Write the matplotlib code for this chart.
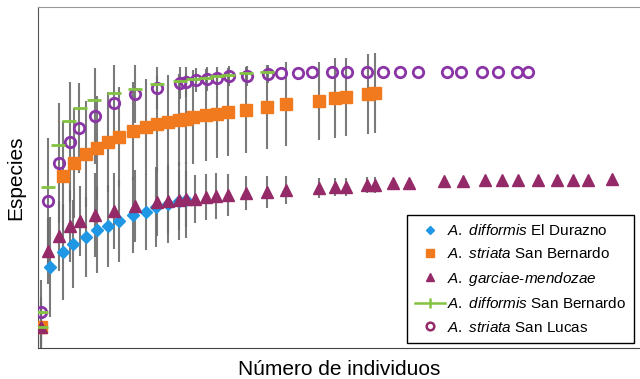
import matplotlib
matplotlib.use("Agg")
import matplotlib.pyplot as plt
from matplotlib.lines import Line2D

plt.rcParams["font.family"] = ["Liberation Sans", "DejaVu Sans"]
plt.rcParams["mathtext.fontset"] = "custom"
plt.rcParams["mathtext.rm"] = "Liberation Sans"
plt.rcParams["mathtext.it"] = "Liberation Sans:italic"

# curvas de rarefaccion
dif_dur_x = [1, 4.8, 10, 14, 19.2, 23.6, 28, 32.4, 38, 43.2, 47.2, 52, 56.4, 59.2]
dif_dur_y = [2.1, 8.1, 9.6, 10.4, 11.1, 11.8, 12.2, 12.7, 13.3, 13.6, 14.1, 14.4, 14.7, 14.8]
dif_dur_e = [2.5, 5.0, 4.8, 4.4, 4.0, 4.3, 4.1, 4.1, 3.8, 3.8, 4.0, 3.9, 3.9, 3.8]

str_sb_x = [1, 10, 14.4, 19.2, 23.6, 28, 32.4, 38, 43.2, 47.6, 52, 56.4, 59.2, 62, 67.2,
            71.6, 76, 83.2, 91.6, 99.2, 112.4, 118.8, 123.2, 132, 134.8]
str_sb_y = [2.1, 17.2, 18.5, 19.4, 20.0, 20.6, 21.1, 21.7, 22.1, 22.4, 22.6, 22.8, 22.9, 23.1, 23.3,
            23.4, 23.6, 23.8, 24.1, 24.4, 24.7, 25.0, 25.1, 25.4, 25.5]
str_sb_e = [2.0, 5.5, 5.5, 5.3, 5.2, 5.0, 5.0, 4.9, 4.8, 4.8, 4.7, 4.6, 4.5, 4.7, 4.6,
            4.4, 4.4, 4.3, 4.2, 4.2, 3.9, 4.0, 3.9, 4.0, 4.0]

gar_x = [1, 4, 8.4, 12.8, 16.8, 22.8, 30.4, 38.8, 47.6, 52, 56.4, 59.2, 62.8, 67.2, 71.2, 76,
         83.2, 91.6, 99.2, 112.4, 118.8, 123.2, 131.6, 134.8, 142, 148.4, 162.4, 170, 178.8,
         185.6, 192, 200, 207.6, 214, 220, 229.6]
gar_y = [2.1, 9.7, 11.2, 12.2, 12.7, 13.3, 13.7, 14.2, 14.6, 14.7, 14.8, 14.9, 14.9, 15.1, 15.2, 15.3,
         15.5, 15.6, 15.8, 16.0, 16.1, 16.1, 16.3, 16.3, 16.5, 16.5, 16.7, 16.7, 16.8,
         16.8, 16.8, 16.8, 16.8, 16.8, 16.8, 16.9]
gar_e = [3.0, 3.3, 3.5, 3.6, 3.5, 4.2, 3.8, 3.6, 3.4, 3.2, 3.0, 2.8, 2.4, 2.3, 2.3, 2.1,
         1.7, 1.6, 1.4, 1.0, 0.9, 0.9, 0.8, 0.8, 0, 0, 0, 0, 0,
         0, 0, 0, 0, 0, 0, 0]

dif_sb_x = [1, 1, 4, 8, 12.4, 16.8, 22.4, 30.4, 38.8, 47.6, 56.8, 62, 67.2, 71.6, 76, 83.2, 91.6]
dif_sb_y = [3.6, 2.1, 16.1, 20.3, 22.7, 24.0, 24.8, 25.5, 25.9, 26.4, 26.7, 26.9, 27.0, 27.2, 27.3,
            27.5, 27.6]

str_sl_x = [1, 4, 8.4, 12.8, 16.4, 22.8, 30.4, 38.8, 47.6, 56.8, 59.2, 63.2, 67.6, 71.6, 76.4,
            83.6, 92, 97.2, 104, 109.6, 117.6, 123.6, 131.6, 138, 144.8, 152, 163.6, 169.2,
            177.6, 184, 191.6, 196]
str_sl_y = [3.6, 14.7, 18.5, 20.6, 22.0, 23.2, 24.5, 25.4, 26.0, 26.5, 26.6, 26.8, 26.9, 27.0, 27.2,
            27.2, 27.4, 27.5, 27.5, 27.6, 27.6, 27.6, 27.6, 27.6, 27.6, 27.6, 27.6, 27.6,
            27.6, 27.6, 27.6, 27.6]
str_sl_e = [3.2, 6.3, 6.0, 6.0, 4.5, 4.8, 3.8, 2.9, 2.1, 1.6, 1.5, 1.2, 1.2, 1.1, 1.0,
            1.0, 0.9, 0, 0, 0, 0, 0, 0, 0, 0, 0, 0, 0,
            0, 0, 0, 0]

c_blue = "#1f97e4"
c_orange = "#f27a1e"
c_tri = "#942a68"
c_green = "#82c341"
c_circ = "#8a34a6"
c_err = "#6c6c6c"

fig = plt.figure(figsize=(6.4, 3.79), dpi=100)
ax = fig.add_axes([38 / 640, 1 - 348 / 379, 1 - 38 / 640, (348 - 7) / 379])

for xs, ys, es in [(str_sl_x, str_sl_y, str_sl_e), (str_sb_x, str_sb_y, str_sb_e),
                   (gar_x, gar_y, gar_e), (dif_dur_x, dif_dur_y, dif_dur_e)]:
    ax.errorbar(xs, ys, yerr=es, fmt="none", ecolor=c_err, elinewidth=1.5,
                capsize=0, zorder=1, alpha=0.9)

ax.plot(dif_dur_x, dif_dur_y, ls="none", marker="D", ms=6.2, color=c_blue, mec=c_blue, zorder=3)
ax.plot(str_sb_x, str_sb_y, ls="none", marker="s", ms=8.2, color=c_orange, mec=c_orange, zorder=3)
ax.plot(gar_x, gar_y, ls="none", marker="^", ms=8.2, color=c_tri, mec=c_tri, zorder=4)
ax.plot(str_sl_x, str_sl_y, ls="none", marker="o", ms=7.5, mfc="none", mec=c_circ, mew=2, zorder=4)
ax.plot(dif_sb_x, dif_sb_y, ls="none", marker="_", ms=10, mew=2, color=c_green, zorder=5)

ax.set_xlim(0, 240.8)
ax.set_ylim(0, 34.1)
ax.set_xticks([])
ax.set_yticks([])
ax.spines["left"].set_color("#555555")
ax.spines["bottom"].set_color("#444444")
ax.spines["top"].set_color("#999999")
ax.spines["right"].set_visible(False)

handles = [
    Line2D([], [], ls="none", marker="D", ms=4.5, color=c_blue),
    Line2D([], [], ls="none", marker="s", ms=5.5, color=c_orange),
    Line2D([], [], ls="none", marker="^", ms=5.5, color=c_tri),
    Line2D([], [], ls="-", lw=1.8, marker="|", ms=7, mew=1.8, color=c_green),
    Line2D([], [], ls="none", marker="o", ms=5.5, mfc="none", mec=c_tri, mew=1.8),
]
labels = [
    r"$\mathit{A.\ difformis}$ El Durazno",
    r"$\mathit{A.\ striata}$ San Bernardo",
    r"$\mathit{A.\ garciae}$-$\mathit{mendozae}$",
    r"$\mathit{A.\ difformis}$ San Bernardo",
    r"$\mathit{A.\ striata}$ San Lucas",
]
leg = fig.legend(handles, labels, loc="lower left", bbox_to_anchor=(407 / 640, 1 - 343 / 379),
                 fontsize=11, frameon=True, fancybox=False, framealpha=1,
                 edgecolor="black", borderpad=0.55, handlelength=1.95, handletextpad=0.1,
                 labelspacing=0.55, borderaxespad=0)
leg.get_frame().set_linewidth(1.0)

fig.text(16 / 640, 1 - 177.5 / 379, "Especies", rotation=90, ha="center", va="center", fontsize=15)
fig.text(339 / 640, 1 - 375 / 379, "Número de individuos", ha="center", va="baseline", fontsize=15)

fig.savefig("out.png", dpi=100)
